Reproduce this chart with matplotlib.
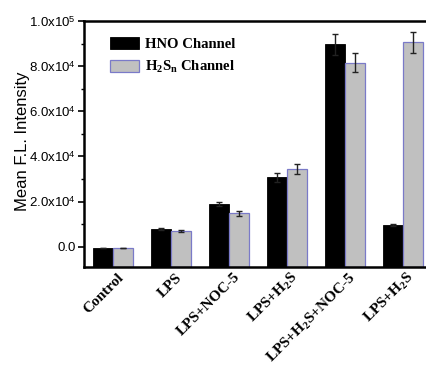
import matplotlib
matplotlib.use("Agg")
import matplotlib.pyplot as plt
from matplotlib.ticker import MultipleLocator, FixedLocator
from matplotlib.transforms import ScaledTranslation
import numpy as np

plt.rcParams['mathtext.fontset'] = 'custom'
plt.rcParams['mathtext.rm'] = 'Liberation Serif:bold'
plt.rcParams['mathtext.sf'] = 'Liberation Sans'
plt.rcParams['mathtext.it'] = 'Liberation Serif:bold'
plt.rcParams['mathtext.bf'] = 'Liberation Serif:bold'

# Treatment groups and mean fluorescence intensities
groups = ["Control", "LPS", "LPS+NOC-5", "LPS+H$_2$S",
          "LPS+H$_2$S+NOC-5", "LPS+H$_2$S"]
hno_mean = [-450, 7700, 18800, 30700, 89600, 9600]
hno_err = [0, 500, 900, 1900, 4600, 600]
h2sn_mean = [-450, 7000, 14800, 34500, 81600, 90500]
h2sn_err = [0, 500, 1000, 2100, 4300, 4600]
series_names = ["HNO Channel", "H$_2$S$_n$ Channel"]
ytick_values = [0, 20000, 40000, 60000, 80000, 100000]
ytick_labels = ["0.0", "2.0x10$^{\\mathsf{4}}$", "4.0x10$^{\\mathsf{4}}$",
                "6.0x10$^{\\mathsf{4}}$", "8.0x10$^{\\mathsf{4}}$",
                "1.0x10$^{\\mathsf{5}}$"]

y_floor = -9000
y_top = 100000

fig = plt.figure(figsize=(4.26, 3.90), dpi=100)
ax = fig.add_axes([84 / 426, 1 - 267 / 390, 348 / 426, 246 / 390])

x = np.arange(len(groups))
w = 0.345
hno = np.array(hno_mean)
h2sn = np.array(h2sn_mean)

ax.bar(x - w / 2, hno - y_floor, w, bottom=y_floor, color="black",
       edgecolor="black", linewidth=0.6, label=series_names[0], zorder=2)
ax.bar(x + w / 2, h2sn - y_floor, w, bottom=y_floor, color="#c0c0c0",
       edgecolor="#7a7ac8", linewidth=0.9, label=series_names[1], zorder=2)

ekw = dict(fmt="none", ecolor="#222222", elinewidth=1.0, capsize=2.2,
           capthick=1.0, zorder=3)
ax.errorbar(x - w / 2, hno, yerr=hno_err, **ekw)
ax.errorbar(x + w / 2, h2sn, yerr=h2sn_err, **ekw)

ax.set_xlim(-0.5, 5.5)
ax.set_ylim(y_floor, y_top)

ax.yaxis.set_major_locator(FixedLocator(ytick_values))
ax.set_yticklabels(ytick_labels, fontfamily="Liberation Sans", fontsize=9.5)
ax.yaxis.set_minor_locator(MultipleLocator(10000))
ax.tick_params(axis="y", which="major", direction="out", length=4,
               width=1.2, pad=2)
ax.tick_params(axis="y", which="minor", direction="out", length=2.5,
               width=1.0)

ax.set_xticks(x)
ax.set_xticklabels(groups, rotation=45, ha="right", va="center",
                   rotation_mode="anchor", fontfamily="Liberation Serif",
                   fontweight="bold", fontsize=11)
ax.tick_params(axis="x", length=0, pad=6)
for lbl in ax.get_xticklabels():
    lbl.set_transform(lbl.get_transform()
                      + ScaledTranslation(9 / 100, 0, fig.dpi_scale_trans))

for side in ("left", "bottom", "top"):
    ax.spines[side].set_linewidth(1.8)
ax.spines["right"].set_visible(False)

ax.set_ylabel("Mean F.L. Intensity", fontfamily="Liberation Sans",
              fontsize=12)
ax.yaxis.set_label_coords(-0.155, 0.51)

leg = ax.legend(loc="upper left", bbox_to_anchor=(0.0747, 0.935),
                frameon=False, borderaxespad=0, borderpad=0,
                handlelength=2.0, handleheight=0.9, labelspacing=0.55,
                handletextpad=0.35,
                prop={"family": "Liberation Serif", "weight": "bold",
                      "size": 10.6})

fig.savefig("out.png", dpi=100)
